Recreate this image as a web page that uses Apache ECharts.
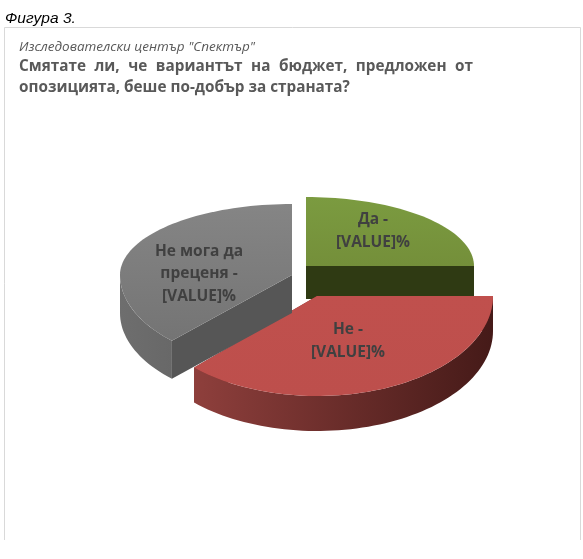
<!DOCTYPE html>
<html><head><meta charset="utf-8">
<style>html,body{margin:0;padding:0;background:#fff}#c{width:583px;height:559px}</style>
<script src="https://cdn.jsdelivr.net/npm/echarts@6/dist/echarts.min.js"></script>
</head><body><div id="c"></div>
<script>
const categories = ['Да', 'Не', 'Не мога да преценя'];
const values = [25, 37.3, 37.7];
const labelTexts = ['Да -\n[VALUE]%', 'Не -\n[VALUE]%', 'Не мога да\nпреценя -\n[VALUE]%'];
const figureLabel = 'Фигура 3.';
const sourceLabel = 'Изследователски център "Спектър"';
const titleLine1 = ['Смятате','ли,','че','вариантът','на','бюджет,','предложен','от'];
const titleLine2 = 'опозицията, беше по-добър за страната?';

const styles = [
  {cx:306,cy:266,rx:168,back:69,front:98,h:33,lx:67,ly:-35,
   top:['#7b9b40','#748f3a'],wall:['#2f3a13','#2f3a13'],cut:'#2f3a13'},
  {cx:317,cy:296,rx:176,back:69,front:100,h:35,lx:31,ly:45,
   top:['#c0504d','#bd4f4c'],wall:['#8e3f3c','#451a18'],cut:'#7a2f2d'},
  {cx:292,cy:275,rx:172,back:71,front:92,h:38,lx:-93,ly:-1,
   top:['#858585','#747474'],wall:['#6e6e6e','#686868'],cut:'#565656'}
];
const total = values.reduce((a,b)=>a+b,0);
const starts = values.map((v,i)=>values.slice(0,i).reduce((a,b)=>a+b,0)/total*360);

function project(s,deg){
  const t=deg*Math.PI/180,c=Math.cos(t);
  return [s.cx+s.rx*Math.sin(t), s.cy-c*(c>0?s.back:s.front)];
}
function arc(s,a,b){
  const pts=[],n=Math.max(2,Math.ceil(Math.abs(b-a)/2));
  for(let i=0;i<=n;i++)pts.push(project(s,a+(b-a)*i/n));
  return pts;
}
function renderItem(params,api){
  const i=params.dataIndex,s=styles[i];
  const a=starts[i],b=a+api.value(1)/total*360;
  const kids=[];
  const apex=[s.cx,s.cy];
  const down=p=>[p[0],p[1]+s.h];
  const hg=c=>({type:'linear',x:0,y:0,x2:1,y2:0,colorStops:[{offset:0,color:c[0]},{offset:1,color:c[1]}]});
  const vg=c=>({type:'linear',x:0,y:0,x2:0,y2:1,colorStops:[{offset:0,color:c[0]},{offset:1,color:c[1]}]});
  [a,b].forEach(d=>{
    const e=project(s,d);
    const visible=(d>=60&&d<=110)||(d>200&&d<260);
    if(visible)kids.push({type:'polygon',shape:{points:[apex,e,down(e),down(apex)]},style:{fill:s.cut}});
  });
  const wa=Math.max(a,90),wb=Math.min(b,270);
  if(wb>wa){
    const top=arc(s,wa,wb);
    kids.push({type:'polygon',shape:{points:top.concat(top.slice().reverse().map(down))},
      style:{fill:hg(s.wall)}});
  }
  kids.push({type:'polygon',shape:{points:[apex].concat(arc(s,a,b))},style:{fill:vg(s.top)}});
  kids.push({type:'text',x:s.cx+s.lx,y:s.cy+s.ly,style:{text:labelTexts[i],fill:'#404040',
    font:'bold 15.5px "Open Sans"',align:'center',verticalAlign:'middle',lineHeight:22.5}});
  return {type:'group',children:kids};
}

const meas=document.createElement('canvas').getContext('2d');
const titleFont='bold 15.3px "Open Sans"';
meas.font=titleFont;
const tX0=19,tX1=473;
const wW=titleLine1.map(w=>meas.measureText(w).width);
const gap=(tX1-tX0-wW.reduce((a,b)=>a+b,0))/(titleLine1.length-1);
let xx=tX0;
const titleEls=titleLine1.map((w,i)=>{
  const el={type:'text',x:xx,y:67,style:{text:w,font:titleFont,fill:'#595959',verticalAlign:'middle'}};
  xx+=wW[i]+gap;return el;
});
const chart=echarts.init(document.getElementById('c'),null,{renderer:'canvas'});
const line=(x1,y1,x2,y2)=>({type:'line',shape:{x1,y1,x2,y2},style:{stroke:'#d9d9d9',lineWidth:1}});
chart.setOption({
  animation:false,
  backgroundColor:'#fff',
  graphic:[
    line(4.5,27.5,4.5,540),line(4.5,27.5,580.5,27.5),line(580.5,27.5,580.5,540),
    {type:'text',x:5,y:19,style:{text:figureLabel,font:'italic 15.5px "Liberation Sans"',fill:'#000',verticalAlign:'middle'}},
    {type:'text',x:19,y:47,style:{text:sourceLabel,font:'italic 13.5px "Open Sans"',fill:'#595959',verticalAlign:'middle'}},
    ...titleEls,
    {type:'text',x:19,y:88,style:{text:titleLine2,font:titleFont,fill:'#595959',verticalAlign:'middle'}}
  ],
  series:[{type:'custom',coordinateSystem:'none',renderItem,
    data:categories.map((n,i)=>({name:n,value:[i,values[i]]}))}]
});
</script></body></html>
